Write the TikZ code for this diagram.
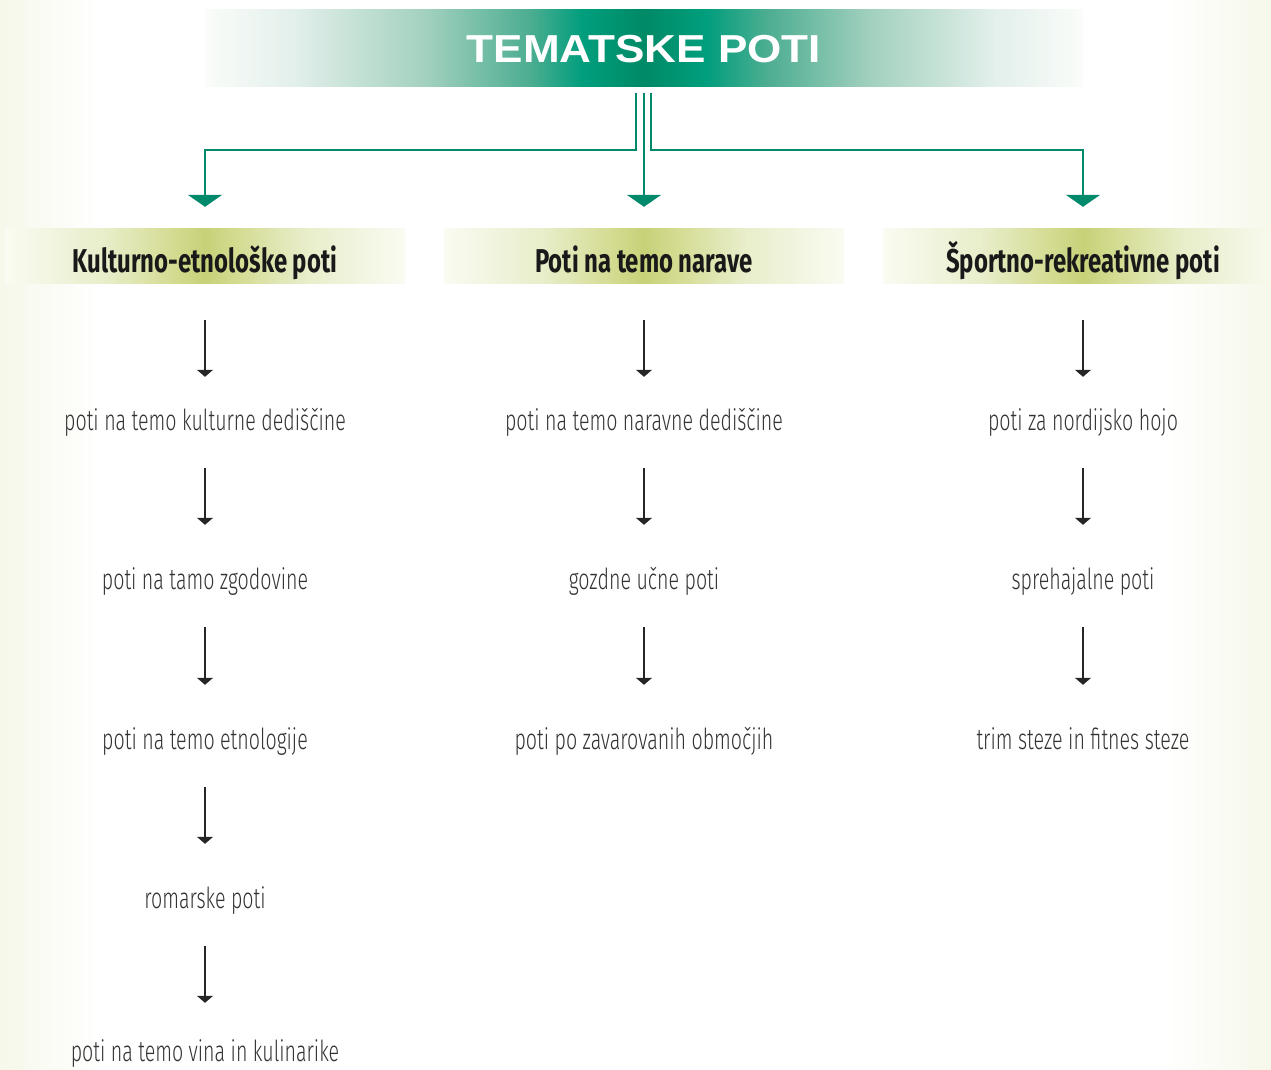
\documentclass[tikz,border=0pt]{standalone}
\usepackage{fontspec}
\usetikzlibrary{arrows.meta}
\newfontfamily\titlefont{Liberation Sans}[FakeStretch=1.13]
\newfontfamily\hdrfont{Fira Sans}[FakeStretch=0.725]
\newfontfamily\itemfont{Fira Sans Light}[FakeStretch=0.677]
\definecolor{tgreen}{HTML}{00896A}
\definecolor{cream}{HTML}{F6F8EA}
\pgfdeclarehorizontalshading{titleshade}{100bp}{%
  rgb(0bp)=(0.98,0.99,0.98); rgb(25bp)=(0.98,0.99,0.98);
  rgb(30bp)=(0.89,0.94,0.92); rgb(37.5bp)=(0.64,0.82,0.75);
  rgb(43.5bp)=(0.30,0.68,0.57); rgb(46.5bp)=(0,0.62,0.49);
  rgb(50bp)=(0,0.54,0.40); rgb(53.5bp)=(0,0.62,0.49);
  rgb(57bp)=(0.30,0.68,0.57); rgb(63bp)=(0.64,0.82,0.75);
  rgb(70bp)=(0.89,0.94,0.92); rgb(75bp)=(0.98,0.99,0.98);
  rgb(100bp)=(0.98,0.99,0.98)}
\pgfdeclarehorizontalshading{hdrshade}{100bp}{%
  rgb(0bp)=(0.98,0.985,0.95); rgb(25bp)=(0.98,0.985,0.95);
  rgb(37.5bp)=(0.91,0.93,0.79); rgb(46bp)=(0.83,0.86,0.57);
  rgb(50bp)=(0.78,0.82,0.47); rgb(54bp)=(0.83,0.86,0.57);
  rgb(62.5bp)=(0.91,0.93,0.79); rgb(75bp)=(0.98,0.985,0.95);
  rgb(100bp)=(0.98,0.985,0.95)}
\begin{document}
\begin{tikzpicture}[x=1pt,y=-1pt,
  itemtxt/.style={font=\itemfont\fontsize{29}{29}\selectfont, text=black!80, anchor=base, inner sep=0pt, text height=20pt, text depth=8pt},
  hdr/.style={shading=hdrshade, minimum width=400pt, minimum height=55pt, inner sep=0pt, text height=33pt, text depth=0pt, font=\hdrfont\bfseries\fontsize{33}{33}\selectfont, text=black!90},
  ttl/.style={shading=titleshade, minimum width=878pt, minimum height=77pt, inner sep=0pt, text height=29pt, text depth=0pt, font=\titlefont\bfseries\fontsize{39}{39}\selectfont, text=white},
  gline/.style={draw=tgreen, line width=2.4pt, -{Triangle[width=34pt,length=12pt]}, shorten >=21pt},
  barrow/.style={draw=black!85, line width=1.1pt, -{Triangle[width=16pt,length=7pt]}},
  itemarrow/.style={barrow, shorten <=30pt, shorten >=44pt},
  firstarrow/.style={barrow, shorten <=37pt, shorten >=33pt},
]
\clip (0,0) rectangle (1271,1070);
\useasboundingbox (0,0) rectangle (1271,1070);
\fill[white] (0,0) rectangle (1271,1070);
\shade[left color=cream, right color=white] (0,0) rectangle (100,1070);
\shade[left color=white, right color=cream] (1165,0) rectangle (1271,1070);

\node[ttl] (title) at (644,48.5) {TEMATSKE POTI};

\node[hdr] (h1) at (205,255.5) {Kulturno-etnološke poti};
\node[hdr] (h2) at (644,255.5) {Poti na temo narave};
\node[hdr] (h3) at (1083,255.5) {Športno-rekreativne poti};

\draw[gline] ([xshift=-8pt,yshift=-6pt]title.south) |- ([yshift=78pt]h1.north) -- (h1.north);
\draw[gline] ([yshift=-6pt]title.south) -- (h2.north);
\draw[gline] ([xshift=7pt,yshift=-6pt]title.south) |- ([yshift=78pt]h3.north) -- (h3.north);

\node[itemtxt] (a1) at (205,430) {poti na temo kulturne dediščine};
\node[itemtxt] (a2) at (205,589) {poti na tamo zgodovine};
\node[itemtxt] (a3) at (205,749) {poti na temo etnologije};
\node[itemtxt] (a4) at (205,908) {romarske poti};
\node[itemtxt] (a5) at (205,1061) {poti na temo vina in kulinarike};

\node[itemtxt] (b1) at (644,430) {poti na temo naravne dediščine};
\node[itemtxt] (b2) at (644,589) {gozdne učne poti};
\node[itemtxt] (b3) at (644,749) {poti po zavarovanih območjih};

\node[itemtxt] (c1) at (1083,430) {poti za nordijsko hojo};
\node[itemtxt] (c2) at (1083,589) {sprehajalne poti};
\node[itemtxt] (c3) at (1083,749) {trim steze in fitnes steze};

\draw[firstarrow] (h1) -- (a1);
\draw[firstarrow] (h2) -- (b1);
\draw[firstarrow] (h3) -- (c1);
\draw[itemarrow] (a1) -- (a2);
\draw[itemarrow] (a2) -- (a3);
\draw[itemarrow] (a3) -- (a4);
\draw[itemarrow, shorten >=38pt] (a4) -- (a5);
\draw[itemarrow] (b1) -- (b2);
\draw[itemarrow] (b2) -- (b3);
\draw[itemarrow] (c1) -- (c2);
\draw[itemarrow] (c2) -- (c3);
\end{tikzpicture}
\end{document}
